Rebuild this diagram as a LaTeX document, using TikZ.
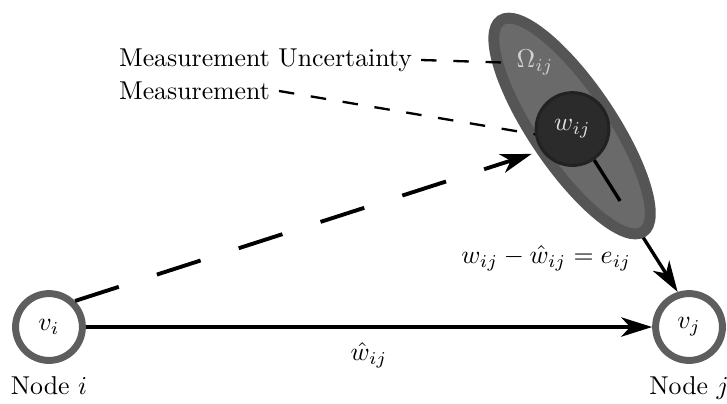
\documentclass[tikz,border=0pt]{standalone}
\usepackage{amsmath}
\usepackage{tikz}
\usetikzlibrary{arrows.meta,positioning,backgrounds,calc}

\definecolor{ringgray}{HTML}{5E5E5E}
\definecolor{uncout}{HTML}{555555}
\definecolor{uncin}{HTML}{6A6A6A}
\definecolor{meascol}{HTML}{2B2B2B}
\definecolor{measring}{HTML}{222222}

\begin{document}
\begin{tikzpicture}[>={Stealth[length=12pt,width=7.5pt,inset=3.5pt]},
  vertex/.style={circle,draw=ringgray,line width=2.7pt,fill=white,minimum size=0.91cm,inner sep=0pt},
  meas/.style={circle,draw=measring,line width=1.2pt,fill=meascol,minimum size=0.99cm,inner sep=0pt,text=white!88!black},
  longdash/.style={line width=1.5pt,dash pattern=on 17.8pt off 15.5pt},
  shortdash/.style={line width=0.9pt,dash pattern=on 6pt off 6.5pt},
  errline/.style={line width=1.3pt}]
\useasboundingbox (0,0) rectangle (9.9,5.488);
\node[vertex] (vi) at (0.667,1.035) {$v_i$};
\node[vertex] (vj) at (9.383,1.035) {$v_j$};
\node[below=0.5mm of vi] (ni) {Node $i$};
\node[below=0.5mm of vj] (nj) {Node $j$};
% uncertainty ellipse
\coordinate (unc) at (7.790,3.772);
\draw[uncout,line width=4.2pt,rotate around={-56:(unc)}] (unc) ellipse (1.736cm and 0.53cm);
\node[meas] (wij) at (7.796,3.731) {$w_{ij}$};
\node[text=white!82!black] (om) at (7.286,4.635) {$\Omega_{ij}$};
% labels
\node[anchor=west] (mu) at (1.498,4.671) {Measurement Uncertainty};
\node[anchor=west] (me) at (1.498,4.249) {Measurement};
\node[anchor=east] (err) at (8.716,1.975) {$w_{ij}-\hat{w}_{ij}=e_{ij}$};
\coordinate (ee) at ($(wij.-55)!0.31!(vj.108)$);
\begin{scope}[on background layer]
\draw[->,errline] (wij.-55) -- (vj.108);
\fill[uncin,rotate around={-56:(unc)}] (unc) ellipse (1.736cm and 0.53cm);
\draw[errline] (wij.-55) -- (ee);
\end{scope}
% edges
\draw[->,line width=1.3pt] (vi) -- node[below=2pt] (what) {$\hat{w}_{ij}$} (vj);
\draw[->,longdash,shorten >=4pt] (vi.45) -- (wij.215);
\draw[shortdash] (mu.east) -- (om.west);
\draw[shortdash] (me.east) -- (wij.188);
\end{tikzpicture}
\end{document}
